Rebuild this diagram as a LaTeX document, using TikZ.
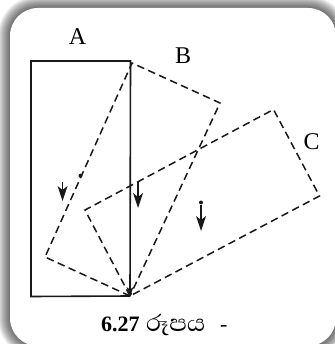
\documentclass[tikz,border=0pt]{standalone}
\usepackage{fontspec}
\setmainfont{Liberation Serif}
\newfontfamily\sinhalafont[Script=Sinhala]{Abhaya Libre}
\usetikzlibrary{arrows.meta,calc}
\begin{document}
\begin{tikzpicture}[x=1pt,y=-1pt,
  solidline/.style={line width=1.6pt,draw=black!90},
  dashline/.style={line width=1.5pt,draw=black!90,dash pattern=on 7.5pt off 4.5pt},
  stem/.style={line width=1.6pt,draw=black!90},
  headfill/.style={fill=black!90},
  lbl/.style={inner sep=0pt,anchor=base,font=\fontsize{24}{28}\selectfont},
  captext/.style={inner sep=0pt,anchor=base west,font=\fontsize{22}{26}\selectfont}]
\useasboundingbox (0,0) rectangle (334,344);
% frame with soft shadow
\fill[white] (0,0) rectangle (334,344);
\foreach \i in {12,11,...,1}{
  \fill[black,opacity=0.06,rounded corners=28+\i] (10-\i,8-\i) rectangle (336+\i,346+\i);
}
\fill[white,rounded corners=28] (10,8) rectangle (336,346);
% points
\coordinate (P) at (130,296);
\coordinate (Atl) at (31,61);
\coordinate (Atr) at (130.5,61);
\coordinate (Abl) at (31,296.5);
\coordinate (BL) at (45,257);
\coordinate (BT) at (132,63);
\coordinate (BR) at (220,103);
\coordinate (CL) at (85,210);
\coordinate (CT) at (273.5,109.5);
\coordinate (CR) at (319.5,196);
% rectangle A
\draw[solidline] (P) -- (Abl) -- (Atl) -- (Atr) -- (P);
\fill[headfill] (P) -- ++(-3.5,-9) -- ++(3.5,2.5) -- ++(3.5,-2.5) -- cycle;
% rectangle B
\draw[dashline] (P) -- (BL) -- (BT) -- (BR) -- cycle;
% rectangle C
\draw[dashline] (P) -- (CL) -- (CT) -- (CR) -- cycle;
% centres of gravity
\fill[black!90] (80.5,175.7) circle (2pt);
\fill[black!90] (201,202.5) circle (2pt);
\coordinate (a1) at (62.5,182); \coordinate (a2) at (62.5,201);
\coordinate (b1) at (138,182); \coordinate (b2) at (138,208);
\coordinate (c1) at (201,205); \coordinate (c2) at (201,231);
\foreach \s/\t in {a1/a2,b1/b2,c1/c2}{
  \draw[stem] (\s) -- ($(\t)+(0,-6)$);
  \fill[headfill] (\t) -- ++(-5,-15) -- ++(5,4) -- ++(5,-4) -- cycle;
}
% labels
\node[lbl] (la) at (77.5,44.5) {A};
\node[lbl] (lb) at (183,63.5) {B};
\node[lbl] (lc) at (311.5,150) {C};
\node[captext] (c627) at (101,331) {\textbf{6.27}};
\node[captext,font=\fontsize{30}{34}\selectfont] (cword) at (146,331) {\sinhalafont රූපය};
\node[captext] (cdash) at (220,331) {-};
\end{tikzpicture}
\end{document}
